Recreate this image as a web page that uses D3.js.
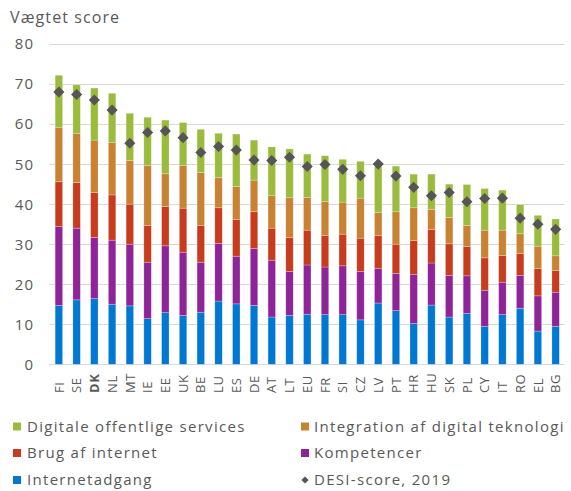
<!DOCTYPE html>
<meta charset="utf-8">
<style>
body { margin: 0; background: #fff; }
svg { display: block; font-family: "Open Sans", sans-serif; }
.grid line { stroke: #d9d9d9; stroke-width: 1px; }
.tick-label { font-size: 15px; fill: #595959; letter-spacing: 1px; }
.x-label { font-size: 13px; fill: #595959; letter-spacing: 0.6px; }
.legend text { font-size: 15px; fill: #595959; letter-spacing: 1.3px; }
</style>
<svg id="chart" width="571" height="491"></svg>
<script src="https://cdn.jsdelivr.net/npm/d3@7"></script>
<script>
// data
var countries = ["FI","SE","DK","NL","MT","IE","EE","UK","BE","LU","ES","DE","AT","LT","EU","FR","SI","CZ","LV","PT","HR","HU","SK","PL","CY","IT","RO","EL","BG"];
var internetadgang = [14.7,16.1,16.4,15.0,14.6,11.4,12.9,12.2,13.0,15.8,15.1,14.7,11.8,12.2,12.5,12.4,12.4,11.1,15.3,13.4,10.2,14.8,11.8,12.7,9.5,12.4,14.0,8.3,9.5];
var kompetencer = [19.7,17.9,15.3,16.0,15.4,14.1,16.7,15.8,12.5,14.4,11.9,14.2,14.2,11.0,12.3,11.9,12.2,12.1,8.7,9.3,12.2,10.5,10.4,9.4,9.0,8.1,8.2,8.8,8.5];
var brugAfInternet = [11.2,11.4,11.2,11.3,10.0,9.2,9.8,11.0,9.2,8.9,9.2,9.2,8.0,8.5,8.7,7.9,7.9,8.3,8.2,7.3,8.5,8.4,7.9,7.3,8.1,6.7,5.5,6.8,5.4];
var integration = [13.6,12.3,13.1,13.1,10.9,14.9,8.2,10.7,13.2,7.5,8.2,7.9,8.1,9.9,8.2,8.5,8.0,10.0,5.7,8.1,8.2,5.0,6.6,5.3,6.9,6.3,4.9,5.6,3.7];
var offentligeServices = [13.0,12.1,13.0,12.3,11.8,12.1,13.4,10.7,10.8,11.1,13.1,10.0,12.2,12.2,10.8,11.4,10.7,9.2,11.5,11.4,8.4,8.8,8.3,10.2,10.4,10.0,7.3,7.7,9.2];
var desi2019 = [68.0,67.4,66.0,63.5,55.2,57.9,58.3,56.6,52.9,54.4,53.5,51.0,50.9,51.7,49.4,49.9,48.7,47.1,50.0,47.0,44.2,42.1,42.9,40.6,41.4,41.5,36.5,35.0,33.7];
var yTicks = [0,10,20,30,40,50,60,70,80];

var seriesNames = ["Internetadgang","Kompetencer","Brug af internet","Integration af digital teknologi","Digitale offentlige services"];
var seriesColors = ["#0078d2","#8e2498","#c83c1e","#c88232","#9bbb3c"];
var seriesValues = [internetadgang, kompetencer, brugAfInternet, integration, offentligeServices];

var svg = d3.select("#chart");

var x = d3.scaleBand()
    .domain(countries)
    .range([50, 564.5])
    .paddingInner(0.58)
    .paddingOuter(0.29);

var y = d3.scaleLinear()
    .domain([0, 80])
    .range([364.3, 44]);

// title
svg.append("text")
    .attr("x", 10)
    .attr("y", 23)
    .style("font-size", "16px")
    .style("letter-spacing", "1.1px")
    .style("fill", "#595959")
    .text("Vægtet score");

// gridlines + y labels
var grid = svg.append("g").attr("class", "grid");
grid.selectAll("line")
  .data(yTicks)
  .enter().append("line")
    .attr("x1", 49)
    .attr("x2", 564.5)
    .attr("y1", function(d) { return Math.round(y(d)) + 0.5; })
    .attr("y2", function(d) { return Math.round(y(d)) + 0.5; });

svg.append("g").selectAll("text")
  .data(yTicks)
  .enter().append("text")
    .attr("class", "tick-label")
    .attr("x", 34)
    .attr("y", function(d) { return y(d); })
    .attr("dy", "0.36em")
    .attr("text-anchor", "end")
    .text(function(d) { return d; });

// stacked bars
var table = countries.map(function(c, i) {
  var row = { country: c };
  seriesNames.forEach(function(s, k) { row[s] = seriesValues[k][i]; });
  return row;
});
var stacked = d3.stack().keys(seriesNames)(table);

svg.append("g").selectAll("g")
  .data(stacked)
  .enter().append("g")
    .attr("fill", function(d, i) { return seriesColors[i]; })
  .selectAll("rect")
  .data(function(d) { return d; })
  .enter().append("rect")
    .attr("x", function(d) { return x(d.data.country); })
    .attr("width", x.bandwidth())
    .attr("y", function(d) { return y(d[1]); })
    .attr("height", function(d) { return y(d[0]) - y(d[1]); })
    .attr("stroke", "#fff")
    .attr("stroke-opacity", 0.35)
    .attr("stroke-width", 0.7);

// DESI diamonds
var diamond = d3.symbol().type(d3.symbolSquare).size(62);
svg.append("g").selectAll("path")
  .data(desi2019)
  .enter().append("path")
    .attr("d", diamond)
    .attr("fill", "#555555")
    .attr("transform", function(d, i) {
      return "translate(" + (x(countries[i]) + x.bandwidth() / 2) + "," + y(d) + ") rotate(45)";
    });

// x labels
svg.append("g").selectAll("text")
  .data(countries)
  .enter().append("text")
    .attr("class", "x-label")
    .attr("transform", function(d) {
      return "translate(" + (x(d) + x.bandwidth() / 2) + ",393) rotate(-90)";
    })
    .attr("dy", "0.36em")
    .attr("text-anchor", "start")
    .style("font-weight", function(d) { return d === "DK" ? "bold" : "normal"; })
    .text(function(d) { return d; });

// legend
var legendItems = [
  { name: "Digitale offentlige services", color: seriesColors[4], col: 0, row: 0 },
  { name: "Integration af digital teknologi", color: seriesColors[3], col: 1, row: 0 },
  { name: "Brug af internet", color: seriesColors[2], col: 0, row: 1 },
  { name: "Kompetencer", color: seriesColors[1], col: 1, row: 1 },
  { name: "Internetadgang", color: seriesColors[0], col: 0, row: 2 },
  { name: "DESI-score, 2019", color: "#555555", col: 1, row: 2, diamond: true }
];
var colX = [13, 301], rowY = [426.5, 453, 480];

var legend = svg.append("g").attr("class", "legend")
  .selectAll("g")
  .data(legendItems)
  .enter().append("g")
    .attr("transform", function(d) { return "translate(" + colX[d.col] + "," + rowY[d.row] + ")"; });

legend.filter(function(d) { return !d.diamond; })
  .append("rect")
    .attr("x", 0)
    .attr("y", -4)
    .attr("width", 8)
    .attr("height", 8)
    .attr("fill", function(d) { return d.color; });

legend.filter(function(d) { return d.diamond; })
  .append("path")
    .attr("d", d3.symbol().type(d3.symbolSquare).size(26))
    .attr("fill", function(d) { return d.color; })
    .attr("transform", "translate(4,0) rotate(45)");

legend.append("text")
    .attr("x", function(d) { return d.col === 0 ? 14 : 13; })
    .attr("dy", "0.36em")
    .text(function(d) { return d.name; });
</script>
